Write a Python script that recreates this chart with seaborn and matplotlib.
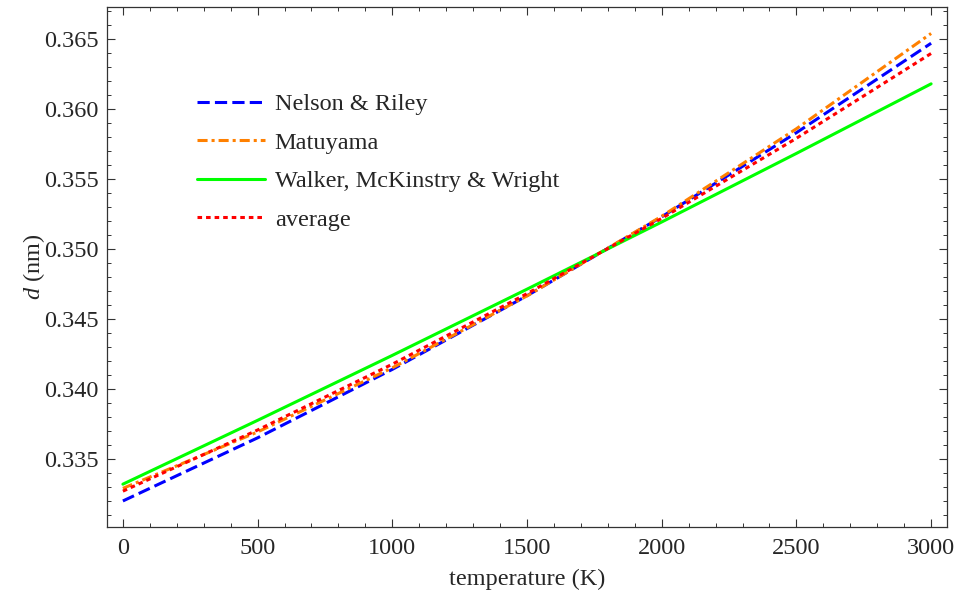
import matplotlib
matplotlib.use("Agg")
import matplotlib.pyplot as plt
from matplotlib.ticker import MultipleLocator
import seaborn as sns
import pandas as pd

# ---- data ----
temperature = [0, 500, 1000, 1500, 2000, 2500, 3000]
nelson_riley = [0.33200, 0.33651, 0.34140, 0.34666, 0.35230, 0.35831, 0.36470]
matuyama = [0.33290, 0.33693, 0.34151, 0.34665, 0.35234, 0.35859, 0.36540]
walker = [0.33320, 0.33776, 0.34240, 0.34713, 0.35193, 0.35683, 0.36180]
average = [0.33270, 0.33707, 0.34177, 0.34681, 0.35219, 0.35791, 0.36397]

series_names = ["Nelson & Riley", "Matuyama", "Walker, McKinstry & Wright", "average"]
series_values = [nelson_riley, matuyama, walker, average]

x_ticks = [0, 500, 1000, 1500, 2000, 2500, 3000]
y_ticks = [0.335, 0.340, 0.345, 0.350, 0.355, 0.360, 0.365]

rows = []
for name, vals in zip(series_names, series_values):
    for t, v in zip(temperature, vals):
        rows.append({"temperature": t, "d": v, "series": name})
df = pd.DataFrame(rows)

sns.set_style("ticks")
plt.rcParams["font.family"] = ["Liberation Serif", "DejaVu Serif"]
plt.rcParams["mathtext.fontset"] = "custom"
plt.rcParams["mathtext.it"] = "Liberation Serif:italic"
plt.rcParams["mathtext.rm"] = "Liberation Serif"

FS = 17.5

fig = plt.figure(figsize=(9.61, 5.96), dpi=100)
ax = fig.add_axes([107 / 961, 1 - 527 / 596, 840 / 961, 520 / 596])

palette = {
    "Nelson & Riley": "#0000FF",
    "Matuyama": "#FF8000",
    "Walker, McKinstry & Wright": "#00FF00",
    "average": "#FF0000",
}
dashes = {
    "Nelson & Riley": (4.0, 1.7),
    "Matuyama": (3.3, 1.3, 1.0, 1.3),
    "Walker, McKinstry & Wright": "",
    "average": (1.5, 1.3),
}

sns.lineplot(data=df, x="temperature", y="d", hue="series", style="series",
             palette=palette, dashes=dashes, hue_order=series_names,
             style_order=series_names, linewidth=2.2, ax=ax)

ax.set_xlim(-59, 3059)
ax.set_ylim(0.33014, 0.36729)
ax.set_xticks(x_ticks)
ax.set_yticks(y_ticks)
ax.set_yticklabels([f"{v:.3f}" for v in y_ticks])
ax.xaxis.set_minor_locator(MultipleLocator(100))
ax.yaxis.set_minor_locator(MultipleLocator(0.001))
ax.tick_params(which="both", direction="in", top=True, right=True,
               labelsize=FS, color="#333333")
ax.tick_params(which="major", length=6, width=0.8)
ax.tick_params(which="minor", length=3, width=0.7)
ax.tick_params(axis="x", which="major", pad=8)
ax.tick_params(axis="y", which="major", pad=6)
for s in ax.spines.values():
    s.set_color("#333333")
    s.set_linewidth(0.9)

ax.set_xlabel("temperature (K)", fontsize=FS, labelpad=7)
ax.set_ylabel(r"$d$ (nm)", fontsize=FS, labelpad=-2)

leg = ax.legend(loc="upper left", bbox_to_anchor=(0.107, 0.834), frameon=False,
                fontsize=FS, handlelength=2.8, labelspacing=0.68,
                borderpad=0, borderaxespad=0, handletextpad=0.4)
for ln in leg.get_lines():
    ln.set_linewidth(2.2)

fig.savefig("out.png", dpi=100)
